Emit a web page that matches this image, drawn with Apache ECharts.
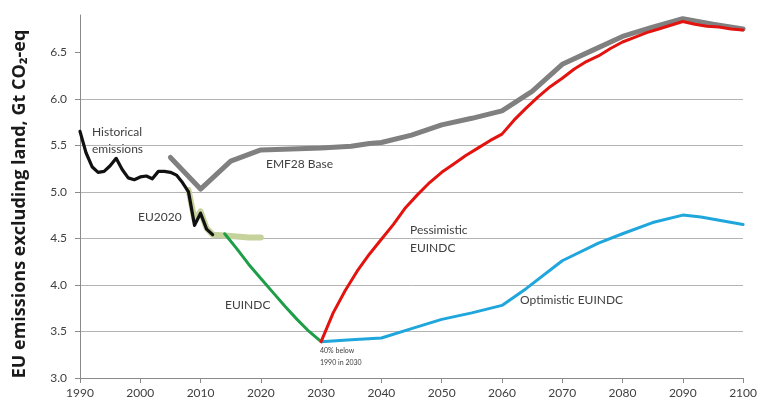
<!DOCTYPE html>
<html>
<head>
<meta charset="utf-8">
<script src="https://cdn.jsdelivr.net/npm/echarts@6/dist/echarts.min.js"></script>
<style>
  html, body { margin: 0; padding: 0; background: #fff; }
  #chart { width: 760px; height: 403px; }
</style>
</head>
<body>
<div id="chart"></div>
<script>
// Y-axis tick values (gridlines and labels)
const yTicks = [3.0, 3.5, 4.0, 4.5, 5.0, 5.5, 6.0, 6.5];
const yTitle = 'EU emissions excluding land, Gt CO\u2082-eq';

// Historical emissions
const histYears = [1990, 1991, 1992, 1993, 1994, 1995, 1996, 1997, 1998, 1999, 2000, 2001, 2002, 2003, 2004, 2005, 2006, 2007, 2008, 2009, 2010, 2011, 2012];
const histValues = [5.65, 5.42, 5.27, 5.21, 5.22, 5.28, 5.36, 5.24, 5.15, 5.13, 5.16, 5.17, 5.14, 5.22, 5.22, 5.21, 5.18, 5.10, 5.00, 4.64, 4.77, 4.60, 4.54];

// EU2020 target pathway
const eu2020Years = [2008, 2009, 2010, 2011, 2012, 2014, 2016, 2018, 2020];
const eu2020Values = [5.02, 4.70, 4.79, 4.61, 4.54, 4.53, 4.52, 4.51, 4.51];

// EUINDC pathway to 2030
const indcYears = [2014, 2016, 2018, 2020, 2022, 2024, 2026, 2028, 2030];
const indcValues = [4.55, 4.39, 4.22, 4.07, 3.92, 3.77, 3.63, 3.50, 3.39];

// EMF28 baseline
const baseYears = [2005, 2010, 2015, 2020, 2025, 2030, 2035, 2038, 2040, 2045, 2050, 2055, 2060, 2065, 2070, 2075, 2080, 2085, 2090, 2095, 2100];
const baseValues = [5.37, 5.03, 5.33, 5.45, 5.46, 5.47, 5.49, 5.52, 5.53, 5.61, 5.72, 5.79, 5.87, 6.08, 6.37, 6.52, 6.67, 6.77, 6.86, 6.80, 6.75];

// Pessimistic EUINDC after 2030
const pessYears = [2030, 2032, 2034, 2036, 2038, 2040, 2042, 2044, 2046, 2048, 2050, 2052, 2054, 2056, 2058, 2060, 2062, 2064, 2066, 2068, 2070, 2072, 2074, 2076, 2078, 2080, 2082, 2084, 2086, 2088, 2090, 2092, 2094, 2096, 2098, 2100];
const pessValues = [3.39, 3.70, 3.94, 4.15, 4.33, 4.49, 4.65, 4.83, 4.97, 5.10, 5.21, 5.30, 5.39, 5.47, 5.55, 5.62, 5.77, 5.90, 6.02, 6.13, 6.22, 6.32, 6.40, 6.46, 6.54, 6.61, 6.66, 6.71, 6.75, 6.79, 6.83, 6.80, 6.78, 6.77, 6.75, 6.74];

// Optimistic EUINDC after 2030
const optYears = [2030, 2035, 2040, 2045, 2050, 2055, 2060, 2064, 2070, 2076, 2080, 2085, 2090, 2093, 2100];
const optValues = [3.39, 3.41, 3.43, 3.53, 3.63, 3.70, 3.78, 3.96, 4.26, 4.45, 4.55, 4.67, 4.75, 4.73, 4.65];

const zip = (xs, ys) => xs.map((x, i) => [x, ys[i]]);

const FONT = 'Lato';
const TEXT = '#404040';

function line(name, xs, ys, color, width, z) {
  return {
    name, type: 'line', data: zip(xs, ys), showSymbol: false, symbol: 'none',
    lineStyle: { color, width, cap: 'round', join: 'round' },
    z, silent: true, animation: false
  };
}

function label(text, left, top, size, lineHeight, align) {
  return {
    type: 'text', left, top, silent: true,
    style: { text, fill: TEXT, font: `${size}px ${FONT}`, lineHeight, align: align || 'left' }
  };
}

const chart = echarts.init(document.getElementById('chart'), null, { renderer: 'canvas' });
chart.setOption({
  backgroundColor: '#fff',
  animation: false,
  grid: { left: 80, right: 16, top: 15, bottom: 25 },
  xAxis: {
    type: 'value', min: 1990, max: 2100, interval: 10,
    axisLine: { show: true, lineStyle: { color: '#8a8a8a', width: 1 } },
    axisTick: { show: true, length: 5, lineStyle: { color: '#8a8a8a' } },
    axisLabel: { color: TEXT, fontFamily: FONT, fontSize: 12, margin: 9, formatter: v => String(v) },
    splitLine: { show: false }
  },
  yAxis: {
    type: 'value', min: 3.0, max: 6.9, interval: 0.5,
    axisLine: { show: true, lineStyle: { color: '#8a8a8a', width: 1 } },
    axisTick: { show: true, length: 5, customValues: yTicks, lineStyle: { color: '#8a8a8a' } },
    axisLabel: { color: TEXT, fontFamily: FONT, fontSize: 12, margin: 13, customValues: yTicks,
                 formatter: v => v.toFixed(1) },
    splitLine: { show: true, showMaxLine: false, lineStyle: { color: '#b4b4b4', width: 1 } }
  },
  series: [
    line('EMF28 Base', baseYears, baseValues, '#808080', 5, 2),
    line('EU2020', eu2020Years, eu2020Values, '#c6d29c', 6, 3),
    line('Historical emissions', histYears, histValues, '#111111', 3.2, 4),
    line('EUINDC', indcYears, indcValues, '#1e9e48', 3, 5),
    line('Pessimistic EUINDC', pessYears, pessValues, '#e3140f', 3, 6),
    line('Optimistic EUINDC', optYears, optValues, '#1fa6dc', 3, 5)
  ],
  graphic: [
    {
      type: 'text', x: 20, y: 204, rotation: Math.PI / 2, silent: true,
      style: { text: yTitle, fill: '#1a1a1a', font: 'bold 18px "Open Sans"',
               align: 'center', verticalAlign: 'middle' }
    },
    label('Historical\nemissions', 92, 124, 12, 17),
    label('EMF28 Base', 266, 156, 12, 17),
    label('EU2020', 138, 209, 12, 17),
    label('Pessimistic\nEUINDC', 410, 221, 12, 18),
    label('EUINDC', 225, 297, 12, 17),
    label('Optimistic EUINDC', 520, 292, 12, 17),
    label('40% below\n1990 in 2030', 320, 345, 7, 12, 'center')
  ]
});
</script>
</body>
</html>
